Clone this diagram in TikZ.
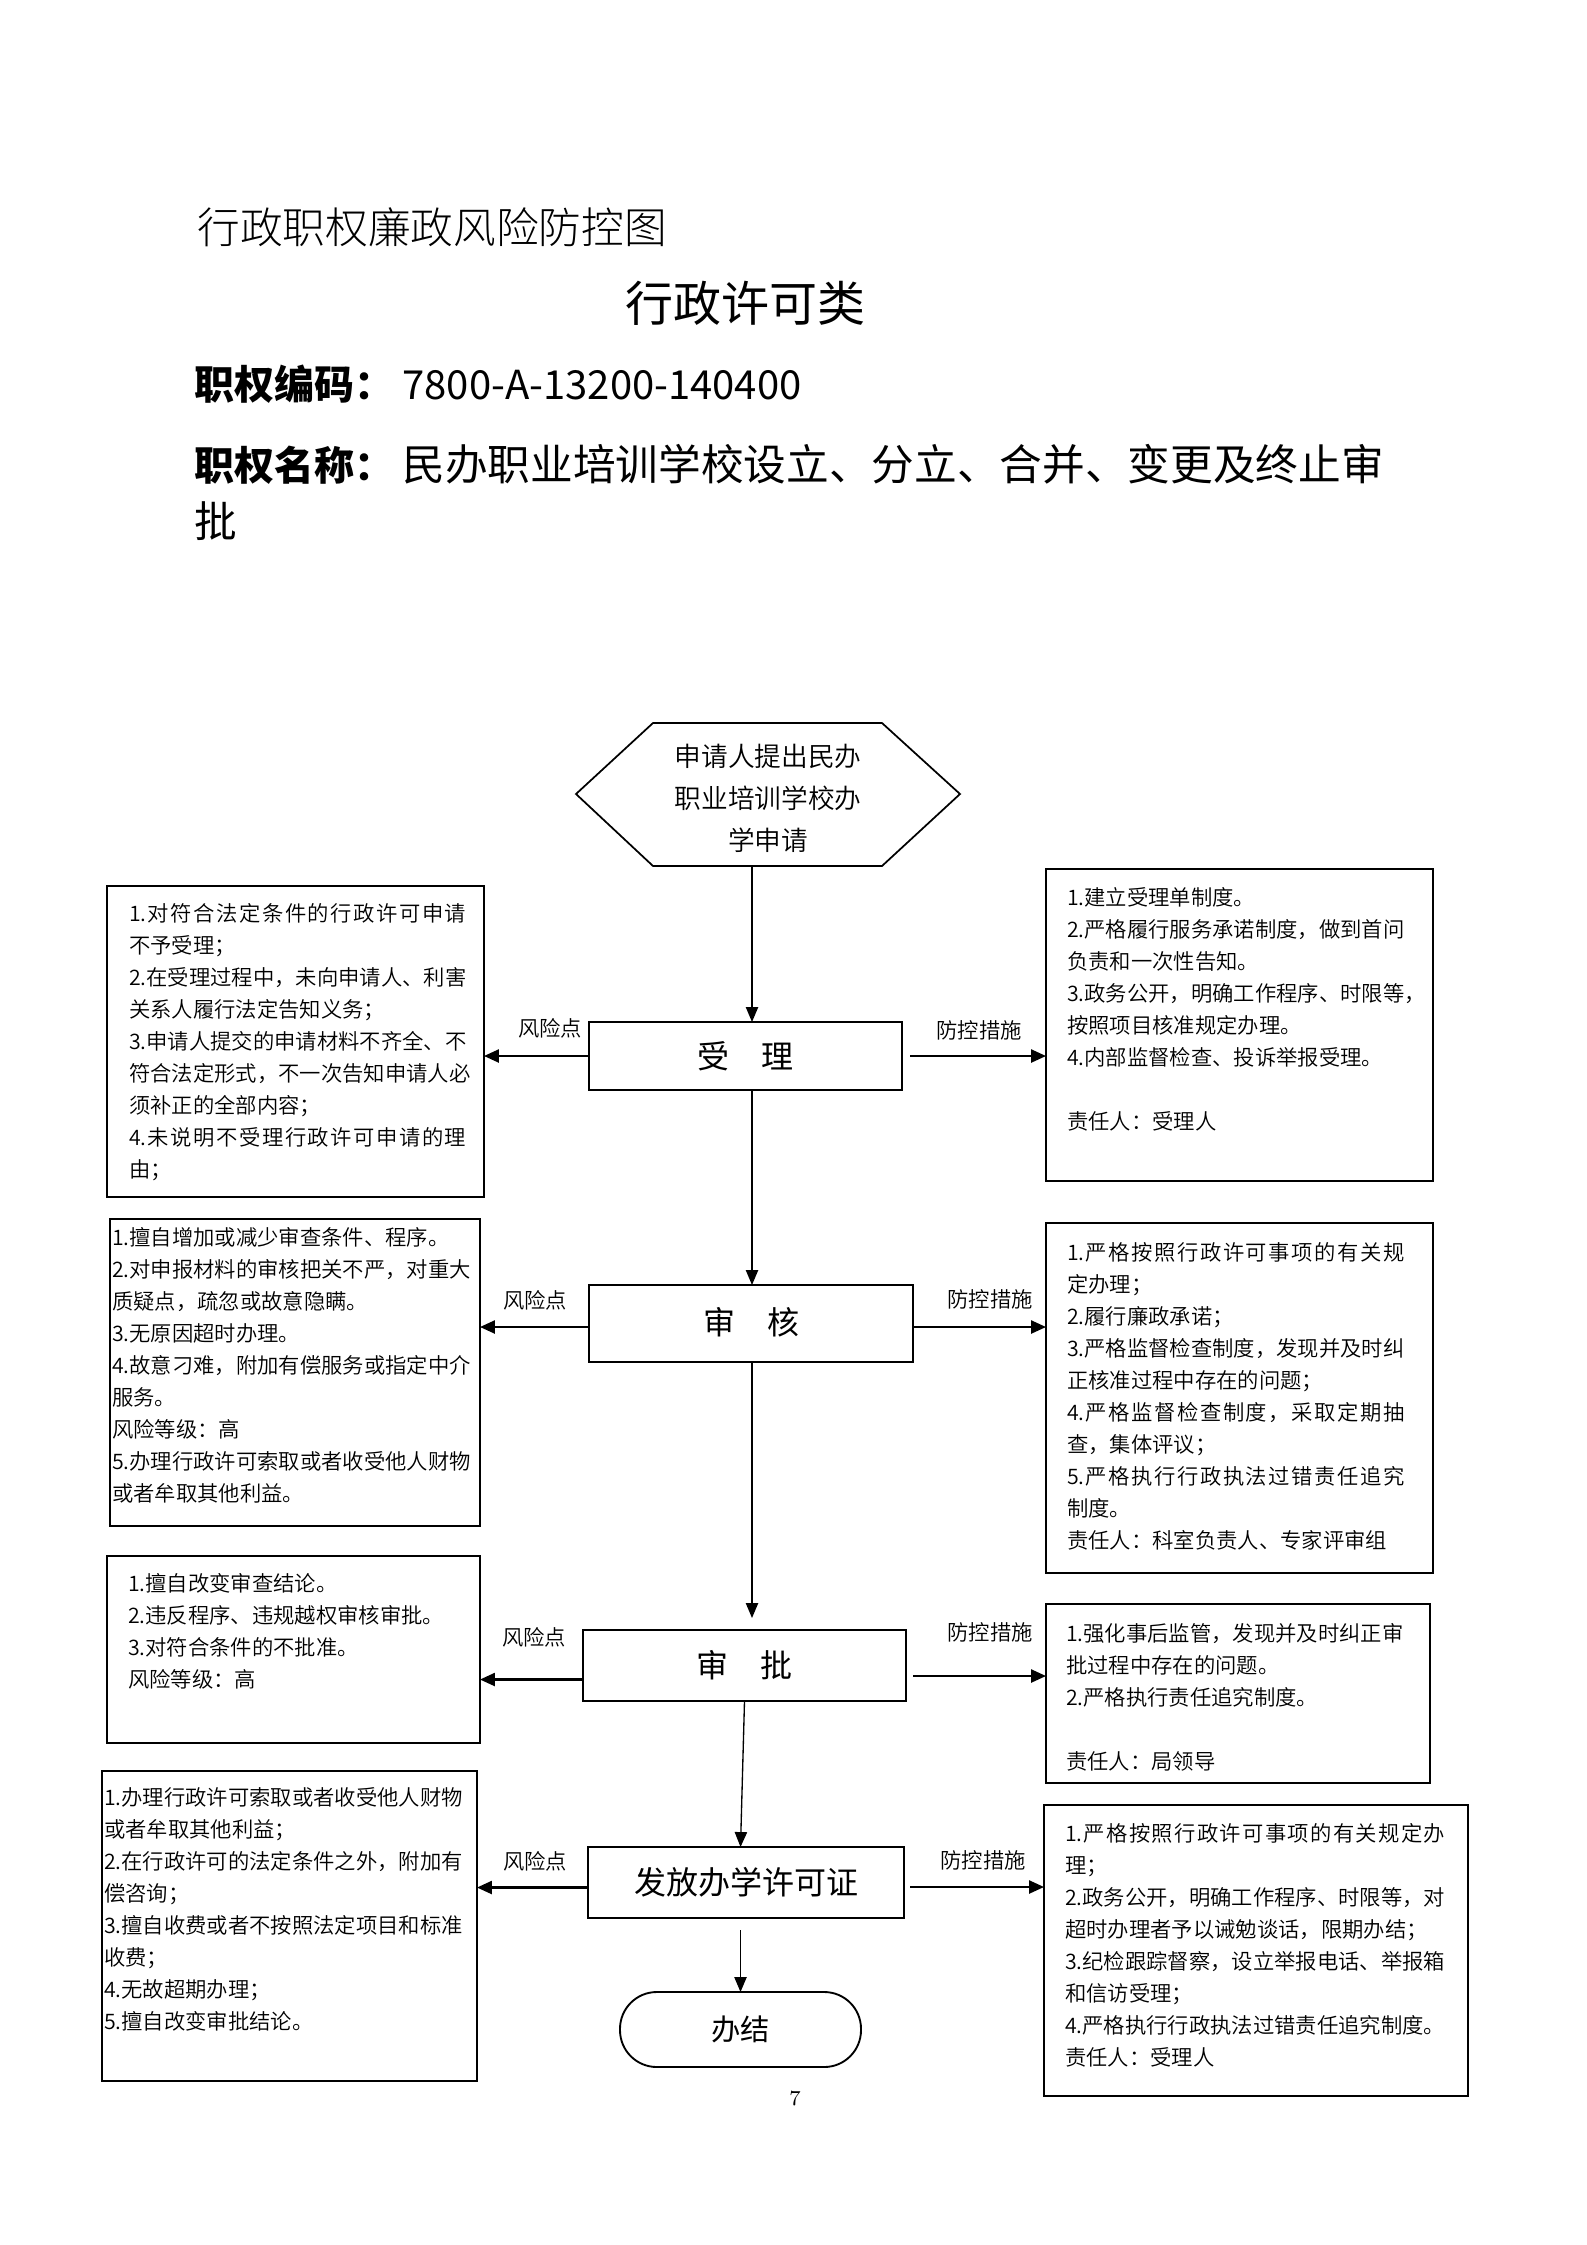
\documentclass[tikz,border=0pt]{standalone}
\usepackage{fontspec}
\newfontfamily\cjk{Noto Sans CJK SC}
\IfFontExistsTF{Noto Sans CJK SC Light}
  {\newfontfamily\cjklt{Noto Sans CJK SC Light}}
  {\let\cjklt\cjk}
\IfFontExistsTF{Noto Sans CJK SC DemiLight}
  {\newfontfamily\cjkbody{Noto Sans CJK SC DemiLight}}
  {\let\cjkbody\cjk}
\usetikzlibrary{arrows.meta,calc}
% justified line: spreads the characters of #2 over width #1
\newcommand\jl[2]{\makebox[#1][s]{\jlfirst#2\relax}}
\def\jlfirst#1{#1\jlloop}
\def\jlloop#1{\ifx\relax#1\else\hskip 0pt plus 1fil #1\expandafter\jlloop\fi}
\begin{document}
\begin{tikzpicture}[x=0.375pt,y=-0.375pt,
  box/.style 2 args={draw, line width=0.9pt, inner sep=0pt, outer sep=0pt,
    minimum width=#1*0.375pt, minimum height=#2*0.375pt},
  proc/.style={font=\cjk\fontsize{12pt}{12pt}\selectfont},
  txt/.style={anchor=north west, inner sep=0pt, outer sep=0pt, align=left,
    font=\cjkbody\fontsize{8pt}{12pt}\selectfont},
  lbl/.style={inner sep=0pt, font=\cjkbody\fontsize{8pt}{8pt}\selectfont},
  varr/.style={line width=0.5pt, -{Triangle[length=5.6pt,width=4.6pt]}},
  harr/.style={line width=0.8pt, -{Triangle[length=5.6pt,width=4.9pt]}},
]
\fill[white] (0,0) rectangle (1587,2245);
\useasboundingbox (0,0) rectangle (1587,2245);

% titles
\node[anchor=west, inner sep=0pt, font=\cjklt\fontsize{16pt}{16pt}\selectfont] (t1) at (197,227) {行政职权廉政风险防控图};
\node[inner sep=0pt, font=\cjk\fontsize{18pt}{18pt}\selectfont] (t2) at (745,303) {行政许可类};
\node[anchor=west, inner sep=0pt, font=\cjk\fontsize{15pt}{15pt}\selectfont] (t3) at (194,384) {{\bfseries 职权编码：}\hspace{3pt}7800-A-13200-140400};
\node[anchor=west, inner sep=0pt, font=\cjk\fontsize{15pt}{15pt}\selectfont] (t4) at (194,464) {{\bfseries 职权名称：}\hspace{3pt}{\fontsize{16pt}{16pt}\selectfont 民办职业培训学校设立、分立、合并、变更及终止审}};
\node[anchor=west, inner sep=0pt, font=\cjk\fontsize{16pt}{16pt}\selectfont] (t5) at (194,521) {批};

% start hexagon
\node[inner sep=0pt, outer sep=0pt, align=center,
  font=\cjkbody\fontsize{10pt}{15.75pt}\selectfont] (H) at (768,798.5)
  {申请人提出民办\\职业培训学校办\\学申请};
\draw[line width=0.65pt] ($(H.center)+(-192,-4.5)$) -- ($(H.center)+(-115,-75.5)$)
  -- ($(H.center)+(114,-75.5)$) -- ($(H.center)+(192,-4.5)$)
  -- ($(H.center)+(114,67.5)$) -- ($(H.center)+(-115,67.5)$) -- cycle;

% process boxes
\node[box={313}{68}, proc] (A) at (745.5,1056) {受　理};
\node[box={324}{77}, proc] (B) at (751,1323.5) {\raisebox{2.2pt}{审　核}};
\node[box={323}{71}, proc] (C) at (744.5,1665.5) {审　批};
\node[box={316}{71}, proc] (D) at (746,1882.5) {发放办学许可证};
\node[draw, line width=0.7pt, rounded corners=13.8pt, inner sep=0pt, outer sep=0pt,
  minimum width=241*0.375pt, minimum height=75*0.375pt,
  font=\cjk\fontsize{11pt}{11pt}\selectfont] (E) at (740.5,2029.5) {办结};

% risk boxes (left)
\node[box={377}{311}] (L1) at (295.5,1041.5) {};
\node[box={370}{307}] (L2) at (295,1372.5) {};
\node[box={373}{187}] (L3) at (293.5,1649.5) {};
\node[box={375}{310}] (L4) at (289.5,1926) {};

% control boxes (right)
\node[box={387}{312}] (R1) at (1239.5,1025) {};
\node[box={387}{350}] (R2) at (1239.5,1398) {};
\node[box={384}{179}] (R3) at (1238,1693.5) {};
\node[box={424}{291}] (R4) at (1256,1950.5) {};

% texts left
\node[txt] (l1t) at (129,898.6) {\strut\jl{126.5pt}{{1.}对符合法定条件的行政许可申请}\\不予受理；\\2.在受理过程中，未向申请人、利害\\关系人履行法定告知义务；\\3.申请人提交的申请材料不齐全、不\\符合法定形式，不一次告知申请人必\\须补正的全部内容；\\\jl{126.5pt}{{4.}未说明不受理行政许可申请的理}\\由；};
\node[txt] (l2t) at (112,1222.6) {\strut 1.擅自增加或减少审查条件、程序。\\2.对申报材料的审核把关不严，对重大\\质疑点，疏忽或故意隐瞒。\\3.无原因超时办理。\\4.故意刁难，附加有偿服务或指定中介\\服务。\\风险等级：高\\5.办理行政许可索取或者收受他人财物\\或者牟取其他利益。};
\node[txt] (l3t) at (128,1568.6) {\strut 1.擅自改变审查结论。\\2.违反程序、违规越权审核审批。\\3.对符合条件的不批准。\\风险等级：高};
\node[txt] (l4t) at (104,1782.6) {\strut 1.办理行政许可索取或者收受他人财物\\或者牟取其他利益；\\2.在行政许可的法定条件之外，附加有\\偿咨询；\\3.擅自收费或者不按照法定项目和标准\\收费；\\4.无故超期办理；\\5.擅自改变审批结论。};

% texts right
\node[txt] (r1t) at (1067,882.6) {\strut 1.建立受理单制度。\\2.严格履行服务承诺制度，做到首问\\负责和一次性告知。\\3.政务公开，明确工作程序、时限等，\\按照项目核准规定办理。\\4.内部监督检查、投诉举报受理。\\\strut\\责任人：受理人};
\node[txt] (r2t) at (1067,1237.6) {\strut\jl{126.5pt}{{1.}严格按照行政许可事项的有关规}\\定办理；\\2.履行廉政承诺；\\3.严格监督检查制度，发现并及时纠\\正核准过程中存在的问题；\\\jl{126.5pt}{{4.}严格监督检查制度，采取定期抽}\\查，集体评议；\\\jl{126.5pt}{{5.}严格执行行政执法过错责任追究}\\制度。\\责任人：科室负责人、专家评审组};
\node[txt] (r3t) at (1066,1618.6) {\strut 1.强化事后监管，发现并及时纠正审\\批过程中存在的问题。\\2.严格执行责任追究制度。\\\strut\\责任人：局领导};
\node[txt] (r4t) at (1065,1818.6) {\strut\jl{142.5pt}{{1.}严格按照行政许可事项的有关规定办}\\理；\\2.政务公开，明确工作程序、时限等，对\\超时办理者予以诫勉谈话，限期办结；\\3.纪检跟踪督察，设立举报电话、举报箱\\和信访受理；\\4.严格执行行政执法过错责任追究制度。\\责任人：受理人};

% vertical flow
\coordinate (vx) at ($(H.center)+(-16,67.5)$);
\draw[varr] (vx) -- (vx |- A.north);
\draw[varr] (vx |- A.south) -- (vx |- B.north);
\draw[varr] (vx |- B.south) -- ($(vx |- C.north)+(0,-12)$);
\draw[varr] (C.south) -- (E.north |- D.north);
\draw[varr] ($(E.north |- D.south)+(0,12)$) -- (E.north);

% left arrows
\draw[harr] (A.west) -- (A.west -| L1.east);
\coordinate (bl) at ($(B.west)+(0,3.5)$);
\draw[harr] (bl) -- (bl -| L2.east);
\coordinate (cl) at ($(C.west)+(0,14)$);
\draw[harr] (cl) -- (cl -| L3.east);
\coordinate (dl) at ($(D.west)+(0,5)$);
\draw[harr] (dl) -- (dl -| L4.east);

% right arrows
\coordinate (ar) at ($(A.east)+(8,0)$);
\draw[harr] (ar) -- (ar -| R1.west);
\coordinate (br) at ($(B.east)+(0,3.5)$);
\draw[harr] (br) -- (br -| R2.west);
\coordinate (cr) at ($(C.east)+(7,10.5)$);
\draw[harr] (cr) -- (cr -| R3.west);
\coordinate (dr) at ($(D.east)+(6,4.5)$);
\draw[harr] (dr) -- (dr -| R4.west);

% labels
\node[lbl] (f1) at (550,1028) {风险点};
\node[lbl] (f2) at (535,1300) {风险点};
\node[lbl] (f3) at (534,1637) {风险点};
\node[lbl] (f4) at (535,1861) {风险点};
\node[lbl] (k1) at (979,1030) {防控措施};
\node[lbl] (k2) at (990,1299) {防控措施};
\node[lbl] (k3) at (990,1632) {防控措施};
\node[lbl] (k4) at (983,1860) {防控措施};

% page number
\node[inner sep=0pt, font=\fontsize{8pt}{8pt}\selectfont] (pg) at (795,2098) {7};
\end{tikzpicture}
\end{document}
